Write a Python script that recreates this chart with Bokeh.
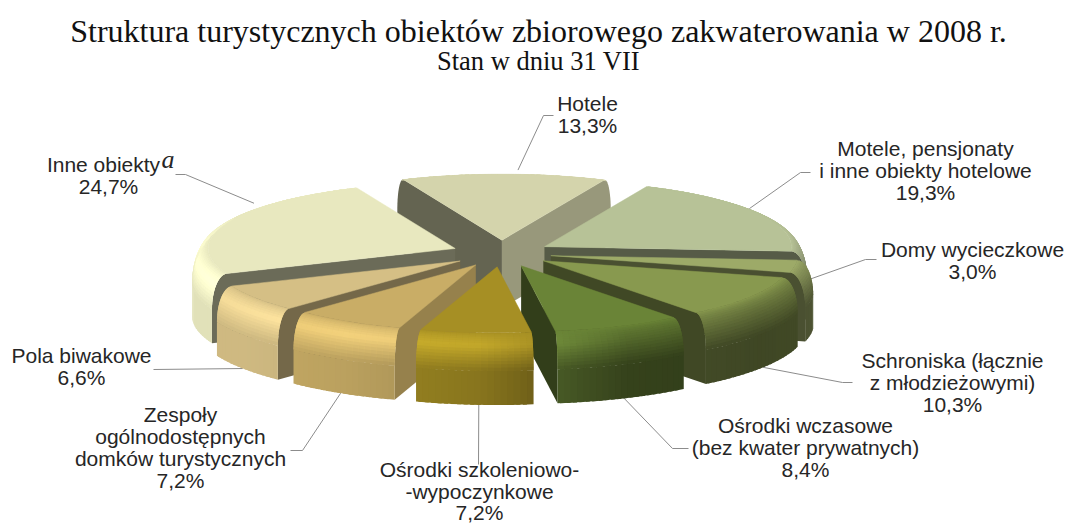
import numpy as np
from bokeh.plotting import figure
from bokeh.models import Range1d, ColumnDataSource
from bokeh.core.properties import value
from bokeh.embed import file_html
from bokeh.resources import INLINE

# ---- data ----
categories = [
    ["Hotele"],
    ["Motele, pensjonaty", "i inne obiekty hotelowe"],
    ["Domy wycieczkowe"],
    ["Schroniska (łącznie", "z młodzieżowymi)"],
    ["Ośrodki wczasowe", "(bez kwater prywatnych)"],
    ["Ośrodki szkoleniowo-", "-wypoczynkowe"],
    ["Zespoły", "ogólnodostępnych", "domków turystycznych"],
    ["Pola biwakowe"],
    ["Inne obiekty"],
]
shares = [13.3, 19.3, 3.0, 10.3, 8.4, 7.2, 7.2, 6.6, 24.7]
colors = ["#D4D4AC", "#B7C297", "#9DAA68", "#88994F", "#6A8437",
          "#A68F24", "#C9AD66", "#D5BF85", "#E8E8BF"]

# ---- layout / style ----
W, H_PAGE = 1067, 524
CX, CY, EXPLODE, K = 501.0, 253.0, 50.0, 0.267
R_FLAT, DR, Z_BEVEL, Z_TOTAL = 247.0, 16.0, 34.0, 68.0
START = -shares[0] * 1.8 + 0.5
STEP = 1.5
BANDS = 16
label_x = [587, 925, 972, 952, 805, 479, 180, 81, 103]
label_y = [103, 148, 249, 360, 425, 469, 414, 355, 164]
value_x_shift = [0, 0, 0, 0, 0, 0, 0, 0, 5]
line_steps = [22, 22, 22, 22, 22, 21.5, 22, 22, 22]
leader_nudge = [3, -8, 0, 0, 0, -1, 0, 0, 18]
leader_depth = [0, 6, 12, 68, 68, 68, 68, 68, 0]
leader_elbows = [
    [(543, 115), (553, 115)],
    [(800, 172), (810, 172)],
    [(865, 259), (876, 259)],
    [(842, 382), (852, 382)],
    [(672, 448), (688, 448)],
    [(478, 464)],
    [(302, 450), (290, 450)],
    [(153, 369)],
    [(185, 174), (175, 174)],
]

# empirical shading by plan angle (deg, clockwise from the back)
ang_t = [-60, 0, 60, 90, 105, 125, 156, 171, 184, 210, 235, 270, 300, 360, 420]
wall_t = [0.9, 0.9, 0.6, 0.5, 0.48, 0.46, 0.5, 0.66, 0.82, 0.93, 0.97, 0.97, 0.95, 0.9, 0.6]
peak_t = [1.0, 1.0, 0.98, 0.8, 0.75, 0.72, 0.8, 1.02, 1.18, 1.22, 1.18, 1.12, 1.05, 1.0, 0.98]
cut_a = [-100, 100, 114, 133, 157, 183, 261, 300]
cut_f = [0.47, 0.78, 0.72, 0.55, 0.46, 0.47, 0.47, 0.47]


def rgb(hexs):
    return np.array([int(hexs[i:i + 2], 16) for i in (1, 3, 5)], float)


def tohex(c):
    c = np.clip(np.round(c), 0, 255).astype(int)
    return "#%02x%02x%02x" % tuple(c)


prof_a = np.radians(np.linspace(0, 90, BANDS + 1))
prof_r = R_FLAT + DR * np.sin(prof_a)
prof_z = Z_BEVEL * (1 - np.cos(prof_a))

# slice angles from the shares
edges = START + np.cumsum([0] + [s * 3.6 for s in shares])
mids = (edges[:-1] + edges[1:]) / 2
apex = [(CX + EXPLODE * np.sin(np.radians(m)), CY - EXPLODE * K * np.cos(np.radians(m))) for m in mids]


def proj(i, r, th, z):
    t = np.radians(th)
    ax, ay = apex[i]
    return (ax + r * np.sin(t), ay - K * r * np.cos(t) + z)


p = figure(width=W, height=H_PAGE, x_range=Range1d(0, W), y_range=Range1d(H_PAGE, 0),
           output_backend="svg", toolbar_location=None, min_border=0, outline_line_color=None,
           background_fill_color="white", border_fill_color="white")
p.axis.visible = False
p.grid.visible = False

# leaders (beneath the pie)
for i in range(len(shares)):
    s = proj(i, prof_r[-1], mids[i] + leader_nudge[i], leader_depth[i])
    pts = [s] + leader_elbows[i]
    p.line([q[0] for q in pts], [q[1] for q in pts], line_color="#8c8c8c", line_width=1)


def cut_face(i, th, normal, add):
    n = ((normal + 180) % 360) - 180
    f = np.interp(n if n > -100 else n + 360, cut_a, cut_f)
    pts = [proj(i, 0, th, 0)]
    pts += [proj(i, r, th, z) for r, z in zip(prof_r, prof_z)]
    pts += [proj(i, prof_r[-1], th, Z_TOTAL), proj(i, 0, th, Z_TOTAL)]
    add(pts, tohex(rgb(colors[i]) * f))


order = sorted(range(len(shares)), key=lambda i: -np.cos(np.radians(mids[i])))
for i in order:
    xs, ys, cs = [], [], []

    def poly(pts, col):
        pts = np.array(pts)
        xs.append(pts[:, 0].tolist())
        ys.append(pts[:, 1].tolist())
        cs.append(col)

    a1, a2 = edges[i], edges[i + 1]
    base = rgb(colors[i])
    n = max(2, int(np.ceil((a2 - a1) / STEP)))
    th = np.linspace(a1, a2, n + 1)
    if np.sin(np.radians(a1)) < 0:
        cut_face(i, a1, a1 - 90, poly)
    if np.sin(np.radians(a2)) > 0:
        cut_face(i, a2, a2 + 90, poly)
    for t0, t1 in zip(th[:-1], th[1:]):
        t1x = min(t1 + STEP * 0.6, a2)  # overlap the next step so no seam shows
        tm = (t0 + t1) / 2
        tn = ((tm + 60) % 360) - 60
        wf = np.interp(tn, ang_t, wall_t)
        pf = np.interp(tn, ang_t, peak_t)
        ct = np.cos(np.radians(tm))
        for j in range(len(prof_r) - 1):
            am = (prof_a[j] + prof_a[j + 1]) / 2
            if np.cos(am) * K - np.sin(am) * ct * 0.96 <= 0:
                continue  # this strip of the bevel faces away from the viewer
            u = (j + 0.5) / (len(prof_r) - 1)
            f = np.interp(u, [0, 0.5, 1], [1.0, pf, wf])
            k2 = min(j + 2, len(prof_r) - 1)
            poly([proj(i, prof_r[j], t0, prof_z[j]), proj(i, prof_r[j], t1x, prof_z[j]),
                  proj(i, prof_r[k2], t1x, prof_z[k2]), proj(i, prof_r[k2], t0, prof_z[k2])],
                 tohex(base * f))
        if ct < 0:
            poly([proj(i, prof_r[-1], t0, prof_z[-1]), proj(i, prof_r[-1], t1x, prof_z[-1]),
                  proj(i, prof_r[-1], t1x, Z_TOTAL), proj(i, prof_r[-1], t0, Z_TOTAL)], tohex(base * wf))
    p.patches("xs", "ys", source=ColumnDataSource(dict(xs=xs, ys=ys, c=cs)),
              fill_color="c", line_color=None)
    top = np.array([apex[i]] + [proj(i, R_FLAT, t, 0) for t in th])
    p.patch(top[:, 0], top[:, 1], fill_color=colors[i], line_color=colors[i], line_width=0.5)

# labels
tx, ty, tt = [], [], []
for i, lines in enumerate(categories):
    for j, l in enumerate(lines):
        tx.append(label_x[i]); ty.append(label_y[i] + j * line_steps[i]); tt.append(l)
    tx.append(label_x[i] + value_x_shift[i])
    ty.append(label_y[i] + len(lines) * line_steps[i])
    tt.append(f"{shares[i]:.1f}".replace(".", ",") + "%")
p.text(tx, ty, text=tt, text_font=value("Liberation Sans"), text_font_size="21px", text_color="#262626",
       text_align="center", text_baseline="middle")
p.text([161], [159], text=["a"], text_font=value("Liberation Serif"), text_font_style="italic",
       text_font_size="26px", text_color="#262626", text_align="left", text_baseline="middle")

p.text([538], [30], text=["Struktura turystycznych obiektów zbiorowego zakwaterowania w 2008 r."],
       text_font=value("Liberation Serif"), text_font_size="32px", text_color="#111111",
       text_align="center", text_baseline="middle")
p.text([538], [60], text=["Stan w dniu 31 VII"],
       text_font=value("Liberation Serif"), text_font_size="26.5px", text_color="#111111",
       text_align="center", text_baseline="middle")

open("out.html", "w").write(file_html(p, INLINE))
